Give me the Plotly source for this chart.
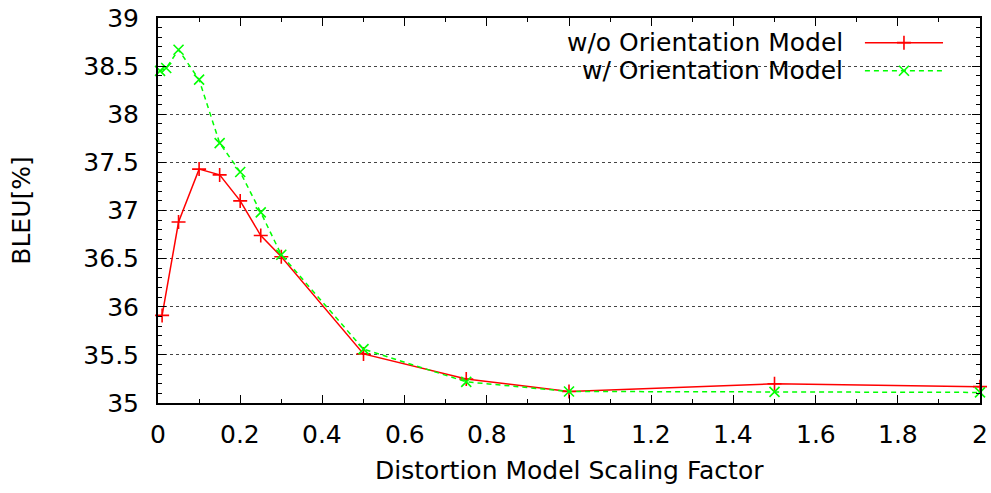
import plotly.graph_objects as go

red_name = "w/o Orientation Model"
green_name = "w/ Orientation Model"
red_x = [0.01, 0.05, 0.1, 0.15, 0.2, 0.25, 0.3, 0.5, 0.75, 1.0, 1.5, 2.0]
red_y = [35.91, 36.88, 37.43, 37.37, 37.10, 36.74, 36.52, 35.51, 35.25, 35.12, 35.20, 35.17]
green_x = [0.005, 0.02, 0.05, 0.1, 0.15, 0.2, 0.25, 0.3, 0.5, 0.75, 1.0, 1.5, 2.0]
green_y = [38.45, 38.48, 38.67, 38.36, 37.70, 37.40, 36.98, 36.54, 35.56, 35.22, 35.12, 35.115, 35.11]
x_ticks = [0, 0.2, 0.4, 0.6, 0.8, 1, 1.2, 1.4, 1.6, 1.8, 2]
y_ticks = [35, 35.5, 36, 36.5, 37, 37.5, 38, 38.5, 39]
x_title = "Distortion Model Scaling Factor"
y_title = "BLEU[%]"

FONT = "DejaVu Sans, Liberation Sans, Arial, sans-serif"
FS = 25
RED = "#ff0000"
GREEN = "#00ff00"

fig = go.Figure()
fig.add_trace(go.Scatter(x=red_x, y=red_y, mode="lines+markers", name=red_name,
                         line=dict(color=RED, width=1.5),
                         marker=dict(symbol="cross-thin", size=10, line=dict(color=RED, width=1.6)),
                         cliponaxis=False, showlegend=False))
fig.add_trace(go.Scatter(x=green_x, y=green_y, mode="lines+markers", name=green_name,
                         line=dict(color=GREEN, width=1.5, dash="5px,4px"),
                         marker=dict(symbol="x-thin", size=10, line=dict(color=GREEN, width=1.6)),
                         cliponaxis=False, showlegend=False))

# manual legend (text on left, sample on right, like gnuplot)
shapes = [dict(type="rect", xref="paper", yref="paper", x0=0.40, x1=0.973, y0=0.83, y1=0.985,
               fillcolor="white", line=dict(width=0), layer="between")]
rows = [(0.936, RED, "solid", red_name), (0.863, GREEN, "5px,4px", green_name)]
annotations = []
lx0, lx1, lxm = 0.860, 0.955, 0.9075
for yy, col, dash, name in rows:
    shapes.append(dict(type="line", xref="paper", yref="paper", x0=lx0, x1=lx1, y0=yy, y1=yy,
                       line=dict(color=col, width=1.5, dash=dash), layer="between"))
    annotations.append(dict(xref="paper", yref="paper", x=0.836, y=yy, text=name, showarrow=False,
                            xanchor="right", yanchor="middle", font=dict(family=FONT, size=FS, color="black")))
# x tick labels placed below the axis like gnuplot
for v in x_ticks:
    annotations.append(dict(xref="x", yref="paper", x=v, y=-0.082, text=f"{v:g}", showarrow=False,
                            xanchor="center", yanchor="middle", font=dict(family=FONT, size=FS, color="black")))
annotations.append(dict(xref="paper", yref="paper", x=0.5, y=-0.176, text=x_title, showarrow=False,
                        xanchor="center", yanchor="middle", font=dict(family=FONT, size=FS, color="black")))
fig.add_trace(go.Scatter(x=[lxm, lxm], y=[rows[0][0], rows[1][0]], xaxis="x2", yaxis="y2",
                         mode="markers", showlegend=False, hoverinfo="skip",
                         marker=dict(symbol=["cross-thin", "x-thin"], size=10,
                                     line=dict(color=[RED, GREEN], width=1.6))))

axis_common = dict(showline=True, linecolor="black", linewidth=2, mirror="allticks",
                   ticks="inside", ticklen=8, tickwidth=1.3, tickcolor="black", automargin=False,
                   tickfont=dict(family=FONT, size=FS, color="black"), zeroline=False)
fig.update_layout(
    width=991, height=493, paper_bgcolor="white", plot_bgcolor="white",
    margin=dict(l=158, r=11, t=18, b=90),
    font=dict(family=FONT, color="black"),
    xaxis=dict(range=[0, 2], tickvals=x_ticks, showgrid=False, showticklabels=False,
               minor=dict(dtick=0.1, tick0=0, ticks="inside", ticklen=4, tickcolor="black", showgrid=False),
               **axis_common),
    yaxis=dict(range=[35, 39], tickvals=y_ticks, showgrid=True, gridcolor="#444444", griddash="dot", gridwidth=1,
               minor=dict(dtick=0.1, tick0=35, ticks="inside", ticklen=4, tickcolor="black", showgrid=False),
               title=dict(text=y_title, font=dict(family=FONT, size=FS), standoff=46),
               ticklabelstandoff=12, **axis_common),
    xaxis2=dict(range=[0, 1], overlaying="x", visible=False, domain=[0, 1]),
    yaxis2=dict(range=[0, 1], overlaying="y", visible=False),
    shapes=shapes, annotations=annotations,
)
fig.write_html("out.html")
